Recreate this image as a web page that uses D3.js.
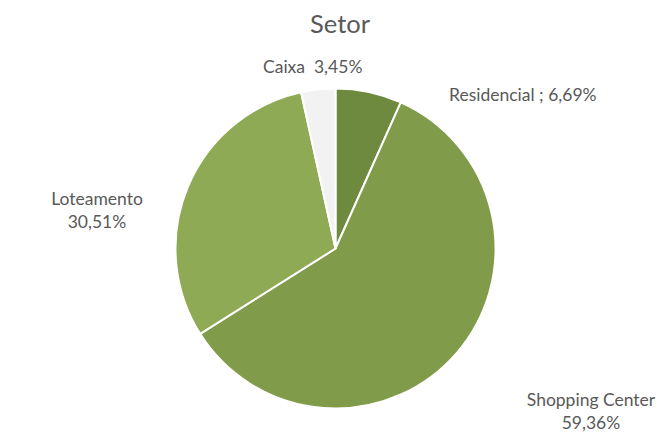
<!DOCTYPE html>
<html>
<head>
<meta charset="utf-8">
<script src="https://cdn.jsdelivr.net/npm/d3@7"></script>
<style>
  body { margin: 0; background: #fff; }
  text { font-family: Lato, "Noto Sans", sans-serif; fill: #595959; }
</style>
</head>
<body>
<div class="chart"></div>
<script>
// setor pie

var categories = ['Residencial', 'Shopping Center', 'Loteamento', 'Caixa'];
var values = [6.69, 59.36, 30.51, 3.45];
var valueLabels = ['6,69%', '59,36%', '30,51%', '3,45%'];
var colors = ['#6e8a3e', '#809c4b', '#8faa54', '#f2f2f2'];

var opts = {
  width: 660,
  height: 432,
  cx: 335.5,
  cy: 248.5,
  radius: 160
};

// where excel put each label (best fit), anchor + baseline of first line
var labelPos = {
  'Residencial': { x: 449, y: 101, anchor: 'start', oneLine: true, sep: ' ; ' },
  'Shopping Center': { x: 591, y: 406, anchor: 'middle' },
  'Loteamento': { x: 97, y: 205, anchor: 'middle' },
  'Caixa': { x: 263, y: 73, anchor: 'start', oneLine: true, sep: '  ' }
};

var svg = d3.select('.chart').append('svg')
  .attr('width', opts.width)
  .attr('height', opts.height);

svg.append('text')
  .attr('x', 340)
  .attr('y', 33)
  .attr('text-anchor', 'middle')
  .style('font-size', '25.5px')
  .text('Setor');

var data = categories.map(function(c, i) {
  return { name: c, value: values[i], label: valueLabels[i], color: colors[i] };
});

var pie = d3.pie().sort(null).value(d => d.value);
var arc = d3.arc().innerRadius(0).outerRadius(opts.radius);

var g = svg.append('g').attr('transform', `translate(${opts.cx},${opts.cy})`);

g.selectAll('path')
  .data(pie(data))
  .enter().append('path')
  .attr('d', arc)
  .attr('fill', d => d.data.color)
  .attr('stroke', '#fff')
  .attr('stroke-width', 2)
  .attr('stroke-linejoin', 'round');

data.forEach(function(d) {
  var p = labelPos[d.name];
  var t = svg.append('text')
    .attr('x', p.x)
    .attr('y', p.y)
    .attr('text-anchor', p.anchor)
    .style('font-size', '17.5px')
    .style('white-space', 'pre');
  if (p.oneLine) {
    t.text(d.name + p.sep + d.label);
  } else {
    t.append('tspan').attr('x', p.x).text(d.name);
    t.append('tspan').attr('x', p.x).attr('dy', 22.5).text(d.label);
  }
});
</script>
</body>
</html>
